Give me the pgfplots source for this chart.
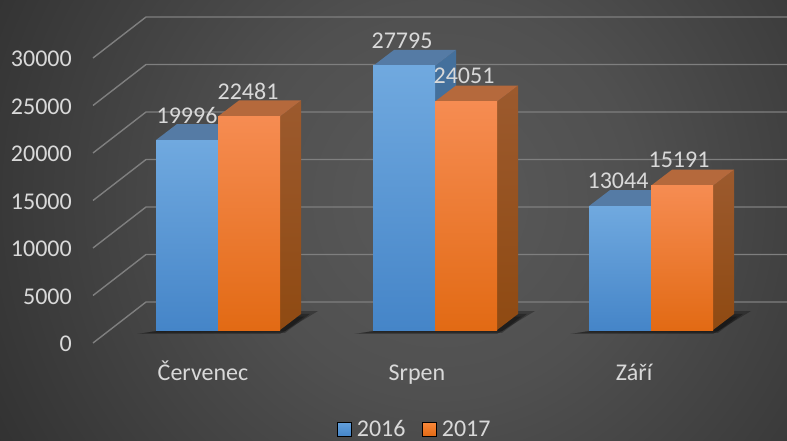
\documentclass[border=0pt]{standalone}
\usepackage{pgfplots}
\pgfplotsset{compat=1.18}
\usepackage{fontspec}
\setmainfont{Carlito}
\definecolor{txt}{HTML}{D9D9D9}
\definecolor{gridc}{HTML}{7F7F7F}
\definecolor{bTop}{HTML}{557BA5}
\definecolor{bSide}{HTML}{44709C}
\definecolor{bF1}{HTML}{70A9DF}
\definecolor{bF2}{HTML}{5B9BD9}
\definecolor{bF3}{HTML}{4585C8}
\definecolor{oTop}{HTML}{B5693C}
\definecolor{oS1}{HTML}{9C5A2E}
\definecolor{oS2}{HTML}{8F4A12}
\definecolor{oF1}{HTML}{F68C52}
\definecolor{oF2}{HTML}{F97C26}
\definecolor{oF3}{HTML}{E26A14}
\definecolor{bgA}{HTML}{5A5A5A}
\definecolor{bgB}{HTML}{505050}
\definecolor{bgC}{HTML}{2A2A2A}
\pgfdeclareradialshading{bgshade}{\pgfpointorigin}{color(0bp)=(bgA); color(7bp)=(bgB); color(21bp)=(bgC); color(50bp)=(bgC)}
\pgfplotsset{
  front b/.style={forget plot,draw=none,shade,top color=bF1,middle color=bF2,bottom color=bF3},
  front o/.style={forget plot,draw=none,shade,top color=oF1,middle color=oF2,bottom color=oF3},
  top b/.style={forget plot,draw=none,fill=bTop},
  top o/.style={forget plot,draw=none,fill=oTop},
  side b/.style={forget plot,draw=none,fill=bSide},
  side o/.style={forget plot,draw=none,shade,top color=oS1,bottom color=oS2},
  gl/.style={forget plot,draw=gridc,line width=1.4pt},
  sh/.style={forget plot,draw=none,fill=black,fill opacity=0.28},
}
\begin{document}
\begin{tikzpicture}
\path[use as bounding box] (0,0) rectangle (787pt,440pt);
\begin{scope}
\clip (0,0) rectangle (787pt,440pt);
\shade[shading=bgshade] (440pt,240pt) circle (700pt);
\end{scope}
\begin{axis}[
  scale only axis, width=787pt, height=440pt, at={(0,0)}, anchor=south west,
  xmin=0, xmax=787, ymin=-11579, ymax=34737,
  clip=false, axis line style={draw=none}, major tick length=0pt,
  scaled y ticks=false,
  ytick={0,5000,10000,15000,20000,25000,30000},
  xtick={203,417,634}, xticklabels={Červenec,Srpen,Září},
  /pgf/number format/1000 sep={}, /pgf/number format/assume math mode=true,
  y tick label style={anchor=east, xshift=72pt, yshift=-14pt, text=txt, font=\fontsize{24}{28}\selectfont, inner sep=0pt},
  x tick label style={anchor=center, yshift=65pt, text=txt, font=\fontsize{24}{28}\selectfont, inner sep=0pt, text height=15pt, text depth=5pt},
  legend columns=2,
  legend style={at={(415/787,11/440)}, anchor=center, draw=none, fill=none, text=txt,
    font=\fontsize{24}{26}\selectfont, inner sep=0pt, outer sep=0pt,
    /tikz/every even column/.append style={column sep=15pt},
    /tikz/every odd column/.append style={column sep=3pt}},
  legend image code/.code={\fill[#1] (0pt,-7pt) rectangle (14pt,7pt);},
]
% legend
\addlegendimage{top color=bF2!95!white,bottom color=bF3,shade}
\addlegendentry{2016}
\addlegendimage{top color=oF2!90!white,bottom color=oF3,shade}
\addlegendentry{2017}
% wall gridlines
\addplot[gl] coordinates {(93,-1368)(146,2947)(787,2947)};
\addplot[gl] coordinates {(93,3632)(146,7947)(787,7947)};
\addplot[gl] coordinates {(93,8632)(146,12947)(787,12947)};
\addplot[gl] coordinates {(93,13632)(146,17947)(787,17947)};
\addplot[gl] coordinates {(93,18632)(146,22947)(787,22947)};
\addplot[gl] coordinates {(93,23632)(146,27947)(787,27947)};
\addplot[gl] coordinates {(93,28632)(146,32947)(787,32947)};
% shadows
\addplot[sh] coordinates {(137,-420)(280,-420)(318,2000)(300,2000)(165,0)} --cycle;
\addplot[sh] coordinates {(144,-300)(285,-300)(310,1700)(290,1700)(165,0)} --cycle;
\addplot[sh] coordinates {(150,-150)(285,-150)(304,1400)(290,1400)(165,0)} --cycle;
\addplot[sh] coordinates {(354,-420)(497,-420)(535,2000)(517,2000)(382,0)} --cycle;
\addplot[sh] coordinates {(361,-300)(502,-300)(527,1700)(507,1700)(382,0)} --cycle;
\addplot[sh] coordinates {(367,-150)(502,-150)(521,1400)(507,1400)(382,0)} --cycle;
\addplot[sh] coordinates {(570,-420)(713,-420)(751,2000)(733,2000)(598,0)} --cycle;
\addplot[sh] coordinates {(577,-300)(718,-300)(743,1700)(723,1700)(598,0)} --cycle;
\addplot[sh] coordinates {(583,-150)(718,-150)(737,1400)(723,1400)(598,0)} --cycle;
% Červenec 2016
\addplot[side b] coordinates {(218,0)(239,1684)(239,21680)(218,19996)} --cycle;
\addplot[top b] coordinates {(156,19996)(177,21680)(239,21680)(218,19996)} --cycle;
\addplot[front b] coordinates {(156,0)(218,0)(218,19996)(156,19996)} --cycle;
% Červenec 2017
\addplot[side o] coordinates {(280,0)(301,1684)(301,24165)(280,22481)} --cycle;
\addplot[top o] coordinates {(218,22481)(239,24165)(301,24165)(280,22481)} --cycle;
\addplot[front o] coordinates {(218,0)(280,0)(280,22481)(218,22481)} --cycle;
% Srpen 2016
\addplot[side b] coordinates {(435,0)(456,1684)(456,29479)(435,27795)} --cycle;
\addplot[top b] coordinates {(373,27795)(394,29479)(456,29479)(435,27795)} --cycle;
\addplot[front b] coordinates {(373,0)(435,0)(435,27795)(373,27795)} --cycle;
% Srpen 2017
\addplot[side o] coordinates {(497,0)(518,1684)(518,25735)(497,24051)} --cycle;
\addplot[top o] coordinates {(435,24051)(456,25735)(518,25735)(497,24051)} --cycle;
\addplot[front o] coordinates {(435,0)(497,0)(497,24051)(435,24051)} --cycle;
% Září 2016
\addplot[side b] coordinates {(651,0)(672,1684)(672,14728)(651,13044)} --cycle;
\addplot[top b] coordinates {(589,13044)(610,14728)(672,14728)(651,13044)} --cycle;
\addplot[front b] coordinates {(589,0)(651,0)(651,13044)(589,13044)} --cycle;
% Září 2017
\addplot[side o] coordinates {(713,0)(734,1684)(734,16875)(713,15191)} --cycle;
\addplot[top o] coordinates {(651,15191)(672,16875)(734,16875)(713,15191)} --cycle;
\addplot[front o] coordinates {(651,0)(713,0)(713,15191)(651,15191)} --cycle;
% value labels
\addplot[forget plot, only marks, mark=none, text=txt,
  nodes near coords, point meta=explicit symbolic,
  every node near coord/.style={anchor=center, text=txt, inner sep=0pt, font=\fontsize{24}{28}\selectfont}]
  table[meta=l, row sep=\\] {
  x y l\\
  187 22632 19996\\
  248 25158 22481\\
  402 30421 27795\\
  464 26737 24051\\
  618 15684 13044\\
  679 17895 15191\\
};
\end{axis}
\end{tikzpicture}
\end{document}
